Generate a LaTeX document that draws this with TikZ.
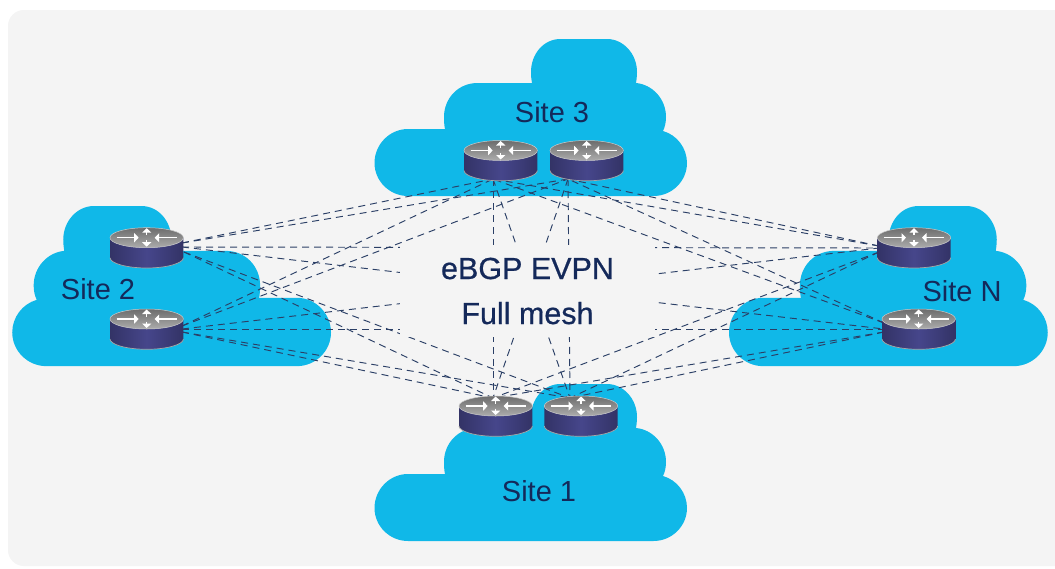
\documentclass[tikz,border=0pt]{standalone}
\usepackage{fontspec}
\setmainfont{Liberation Sans}
\usepackage{xcolor}
\usetikzlibrary{arrows.meta,positioning,calc}
\definecolor{panelgray}{HTML}{F4F4F4}
\definecolor{cloudblue}{HTML}{10B8E8}
\definecolor{meshnavy}{HTML}{2B3F66}
\definecolor{labelnavy}{HTML}{14295A}
\newfontfamily\medfont[FakeBold=0.6]{Liberation Sans}
\def\cloudpath{(33.5,157) .. controls (15,157) and (0,142) .. (0,124)
  .. controls (0,105.5) and (15,90) .. (33.5,90) -- (70.5,90)
  .. controls (69.7,86.5) and (69.5,82) .. (69.5,78)
  .. controls (69.5,59) and (84,44) .. (103,44) -- (157.5,44)
  .. controls (156.8,40) and (156.5,37) .. (156.5,33)
  .. controls (156.5,15) and (169,0) .. (186,0) -- (232.5,0)
  .. controls (249,0) and (262.5,15) .. (262.5,33)
  .. controls (262.5,37) and (262,41) .. (261.5,44)
  .. controls (278,45.5) and (291.5,60) .. (291.5,78)
  .. controls (291.5,83) and (290.5,88) .. (288.5,92)
  .. controls (302.5,96) and (312.5,109) .. (312.5,124)
  .. controls (312.5,142) and (297.5,157) .. (279,157) -- cycle}
\tikzset{
  cloud/.style={fill=cloudblue},
  mesh/.style={draw=meshnavy, line width=0.95pt, dash pattern=on 7pt off 5pt},
  sitetxt/.style={font=\fontsize{29}{33}\selectfont, text=labelnavy, inner sep=0pt},
  meshtxt/.style={font=\fontsize{30.5}{45}\selectfont\medfont, text=labelnavy, fill=panelgray,
    align=center, inner sep=0pt, minimum width=255pt, minimum height=92pt},
  routerbox/.style={inner sep=0pt, minimum width=73.4pt, minimum height=40pt},
  whitearrow/.style={draw=white, line width=1.2pt, -{Triangle[length=4.5pt,width=9pt]}},
  routericon/.pic={
    \shade[left color=black!75!blue!80, right color=black!75!blue!80, middle color=black!40!blue!45!gray]
      (-36.7,0) -- (-36.7,20) .. controls (-36.7,25.5) and (-20.3,30.3) .. (0,30.3)
      .. controls (20.3,30.3) and (36.7,25.5) .. (36.7,20) -- (36.7,0) -- cycle;
    \draw[gray!70, line width=0.7pt] (-36.7,20) .. controls (-36.7,25.5) and (-20.3,30.3) .. (0,30.3)
      .. controls (20.3,30.3) and (36.7,25.5) .. (36.7,20);
    \shade[top color=gray!85!black, bottom color=gray!65, draw=gray!40, line width=0.5pt]
      (0,0) ellipse [x radius=36.7pt, y radius=10pt];
    \draw[whitearrow] (-30,0) -- (-8,0);
    \draw[whitearrow] (30,0) -- (8,0);
    \draw[whitearrow] (0,-2.5) -- (0,-9.5);
    \draw[whitearrow] (0,2.5) -- (0,9);
  },
}

\begin{document}
\begin{tikzpicture}[x=1pt, y=-1pt]
  \useasboundingbox (0,0) rectangle (1055,568);
  \fill[white] (0,0) rectangle (1055,568);
  \fill[panelgray, rounded corners=16pt] (8,10) rectangle (1075,566);

  % clouds
  \begin{scope}[shift={(374.5,39)}]
    \fill[cloud] \cloudpath;
  \end{scope}
  \begin{scope}[shift={(374.5,384)}]
    \fill[cloud] \cloudpath;
  \end{scope}
  \begin{scope}[shift={(331,206)}, xscale=-1.02, yscale=1.02]
    \fill[cloud] \cloudpath;
  \end{scope}
  \begin{scope}[shift={(729,206)}, xscale=1.02, yscale=1.02]
    \fill[cloud] \cloudpath;
  \end{scope}

  \node[sitetxt] (site3) at (552,112) {Site 3};
  \node[sitetxt] (site1) at (539,491) {Site 1};
  \node[sitetxt] (site2) at (98,289) {Site 2};
  \node[sitetxt] (siteN) at (962,291) {Site N};

  % routers, icons go on top of the mesh
  \foreach \r/\x/\y in {r3a/500.7/150.5, r3b/586.7/150.5, r1a/495.7/406, r1b/581/406,
                        r2a/146.7/237.7, r2b/146.7/319, rNa/914/237.7, rNb/918.7/319} {
    \node[routerbox, anchor=center] (\r) at (\x,\y+10) {};
  }

  % ports where the mesh lines meet a router
  \coordinate (p3a) at (493,179);
  \coordinate (p3b) at (568,179);
  \coordinate (p1a) at (493,398);
  \coordinate (p1b) at (570,398);
  \coordinate (p2aU) at (182,243);
  \coordinate (p2aM) at (182,247);
  \coordinate (p2aD) at (184,252);
  \coordinate (p2bU) at (182,326);
  \coordinate (p2bM) at (182,329);
  \coordinate (p2bD) at (182,332);
  \coordinate (pNaU) at (879,246);
  \coordinate (pNaM) at (879,248);
  \coordinate (pNaD) at (879,252);
  \coordinate (pNbU) at (884,323);
  \coordinate (pNbM) at (884,329);
  \coordinate (pNbD) at (884,332);

  % full mesh
  \foreach \a/\b in {p2aU/p3a, p2aU/p3b, p2bU/p3a, p2bU/p3b,
                     p2aD/p1a, p2aD/p1b, p2bD/p1a, p2bD/p1b,
                     pNaU/p3a, pNaU/p3b, pNbU/p3a, pNbU/p3b,
                     pNaD/p1a, pNaD/p1b, pNbD/p1a, pNbD/p1b,
                     p2aM/pNaM, p2bM/pNbM, p2aM/pNbM, p2bM/pNaM,
                     p3a/p1a, p3a/p1b, p3b/p1a, p3b/p1b} {
    \draw[mesh] (\a) -- (\b);
  }

  \node[meshtxt] (meshlabel) at (527.5,291) {eBGP EVPN\\Full mesh};

  \foreach \r/\x/\y in {r3a/500.7/150.5, r3b/586.7/150.5, r1a/495.7/406, r1b/581/406,
                        r2a/146.7/237.7, r2b/146.7/319, rNa/914/237.7, rNb/918.7/319} {
    \pic at (\x,\y) {routericon};
  }
\end{tikzpicture}
\end{document}
